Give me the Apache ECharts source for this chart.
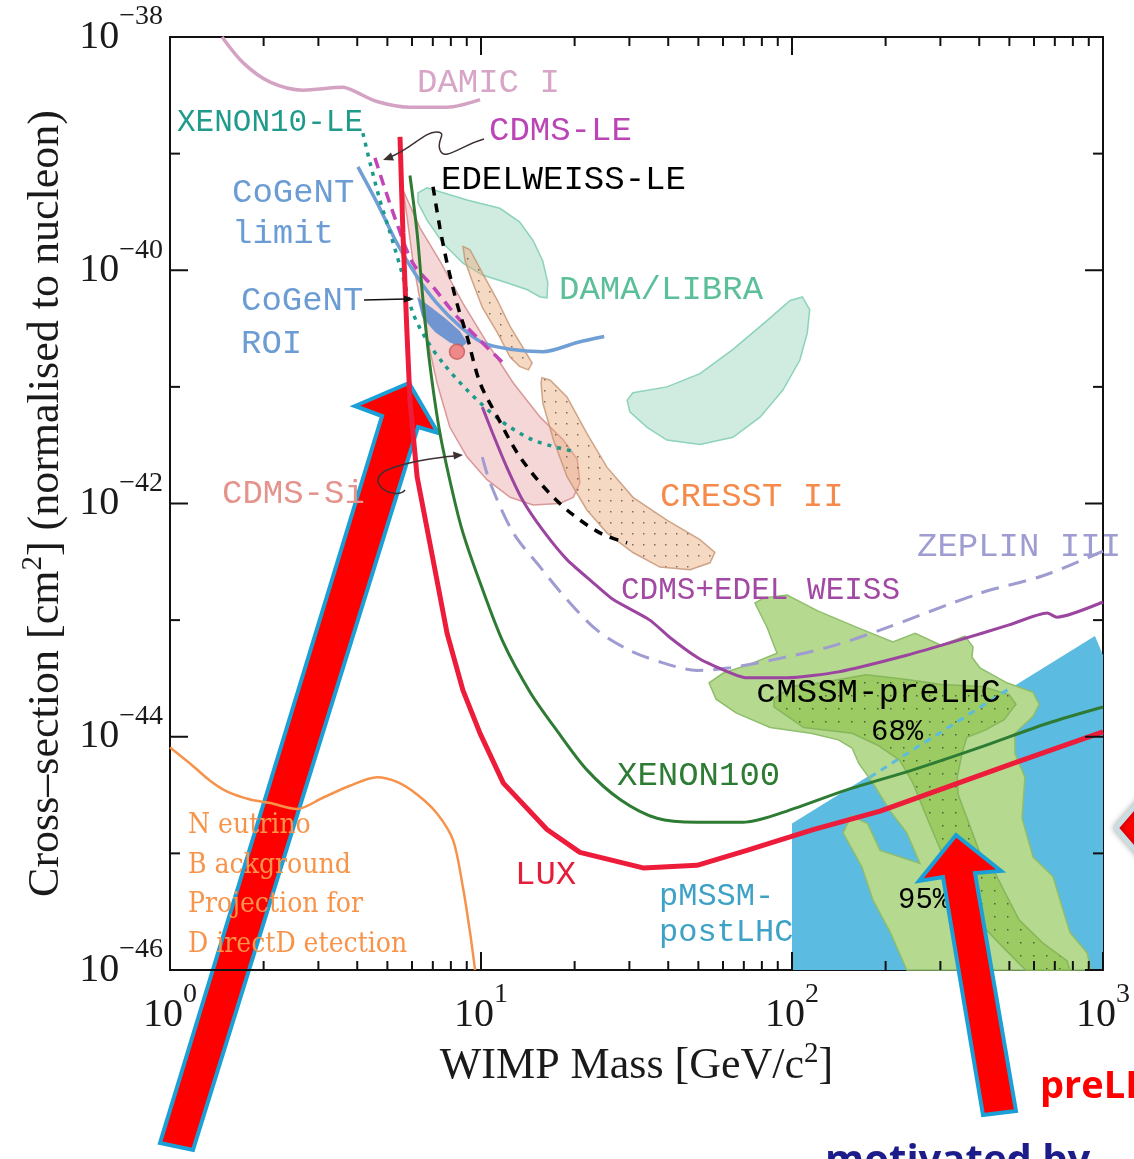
<!DOCTYPE html>
<html>
<head>
<meta charset="utf-8">
<script src="https://cdn.jsdelivr.net/npm/echarts@6/dist/echarts.min.js"></script>
<style>
html, body { margin: 0; padding: 0; background: #fff; }
#chart { width: 1134px; height: 1159px; }
#err { position: absolute; left: 0; top: 0; color: #c00; font: 14px monospace; }
</style>
</head>
<body>
<div id="chart"></div>
<div id="err"></div>
<script>
window.onerror = function (m) { document.getElementById('err').textContent = m; };

// axis ranges and ticks (GeV, cm2)
const massRange = [1, 1000];
const sigmaRange = [1e-46, 1e-38];
const massMajor = [1, 10, 100, 1000];
const massMinor = [2, 3, 4, 5, 6, 7, 8, 9, 20, 30, 40, 50, 60, 70, 80, 90, 200, 300, 400, 500, 600, 700, 800, 900];
const sigmaTicks = [1e-46, 1e-45, 1e-44, 1e-43, 1e-42, 1e-41, 1e-40, 1e-39, 1e-38];

// limit curves  [mass GeV, cross-section cm2]
const damicI = [[1.47, 1e-38], [1.72, 6.0e-39], [2.10, 4.1e-39], [2.68, 3.5e-39], [3.60, 3.7e-39], [3.85, 3.5e-39], [4.63, 2.8e-39], [5.91, 2.5e-39], [7.78, 2.5e-39], [9.93, 2.9e-39]];
const xenon10LE = [[4.17, 1.5e-39], [4.40, 8.3e-40], [4.73, 4.0e-40], [5.10, 2.1e-40], [5.57, 9.5e-41], [6.04, 4.3e-41], [6.70, 2.5e-41], [7.55, 1.6e-41], [9.02, 9.4e-42], [11.5, 5.2e-42], [14.7, 3.5e-42], [19.8, 2.8e-42]];
const cdmsLE = [[4.56, 9.2e-40], [4.84, 5.6e-40], [5.37, 2.5e-40], [6.04, 1.15e-40], [7.01, 7.2e-41], [8.37, 4.0e-41], [9.93, 2.5e-41], [11.8, 1.6e-41]];
const edelweissLE = [[7.01, 5.2e-40], [7.38, 2.3e-40], [7.78, 1.15e-40], [8.37, 5.2e-41], [9.02, 2.7e-41], [9.93, 1.08e-41], [11.3, 5.5e-42], [13.1, 2.7e-42], [15.5, 1.5e-42], [18.9, 8.8e-43], [24.1, 5.6e-43], [29.5, 4.6e-43]];
const cogentLimit = [[4.02, 7.7e-40], [4.63, 3.8e-40], [5.37, 1.7e-40], [6.23, 8.8e-41], [7.22, 5.2e-41], [8.56, 3.3e-41], [10.1, 2.4e-41], [12.4, 2.1e-41], [15.8, 2.0e-41], [20.4, 2.4e-41], [24.9, 2.7e-41]];
const lux = [[5.49, 1.39e-39], [5.61, 2.1e-40], [5.78, 2.9e-41], [5.91, 7.7e-42], [6.23, 1.7e-42], [7.01, 3.3e-43], [7.78, 7.7e-44], [8.75, 2.5e-44], [9.93, 1.07e-44], [11.8, 4.0e-45], [16.3, 1.6e-45], [20.8, 1.02e-45], [33.2, 7.5e-46], [49.5, 7.9e-46], [71.6, 1.06e-45], [117, 1.6e-45], [192, 2.3e-45], [315, 3.7e-45], [514, 5.9e-45], [1000, 1.1e-44]];
const xenon100 = [[5.91, 6.5e-40], [6.23, 2.1e-40], [6.51, 5.5e-41], [6.86, 1.5e-41], [7.38, 4.0e-42], [8.13, 1.2e-42], [8.75, 5.6e-43], [9.93, 2.1e-43], [11.8, 6.4e-44], [14.4, 2.4e-44], [17.5, 1.14e-44], [21.9, 5.2e-45], [28.0, 2.9e-45], [36.8, 2.0e-45], [49.5, 1.85e-45], [69.6, 1.85e-45], [91.4, 2.2e-45], [150, 3.5e-45], [245, 5.2e-45], [402, 8.1e-45], [661, 1.3e-44], [1000, 1.8e-44]];
const cdmsEdelweiss = [[10.1, 6.7e-42], [10.9, 4.0e-42], [12.1, 2.05e-42], [13.6, 1.07e-42], [15.8, 5.9e-43], [18.9, 3.3e-43], [22.9, 2.1e-43], [26.6, 1.5e-43], [34.9, 1.0e-43], [40.5, 7.1e-44], [49.5, 4.8e-44], [55.7, 4.1e-44], [71.6, 3.2e-44], [96.4, 3.2e-44], [141, 3.6e-44], [234, 5.0e-44], [342, 6.7e-44], [499, 9.1e-44], [661, 1.15e-43], [711, 1.06e-43], [1000, 1.43e-43]];
const zeplin3 = [[10.1, 2.5e-42], [10.7, 1.5e-42], [12.7, 5.6e-43], [15.5, 2.85e-43], [18.9, 1.5e-43], [23.6, 8.2e-44], [30.1, 5.5e-44], [38.5, 4.3e-44], [49.5, 3.7e-44], [63.2, 3.9e-44], [91.4, 4.7e-44], [132, 5.9e-44], [192, 8.2e-44], [402, 1.7e-43], [641, 2.4e-43], [1000, 3.9e-43]];
const neutrinoBg = [[1.0, 8.1e-45], [1.16, 5.9e-45], [1.345, 4.2e-45], [1.54, 3.35e-45], [1.81, 2.9e-45], [2.10, 2.7e-45], [2.56, 2.4e-45], [3.10, 3.0e-45], [3.79, 3.8e-45], [4.63, 4.5e-45], [5.37, 4.1e-45], [6.23, 3.2e-45], [7.22, 2.2e-45], [8.13, 1.3e-45], [8.75, 5.1e-46], [9.22, 2.1e-46], [9.57, 1e-46]];
const pmssmEdge = [[178, 4.5e-45], [502, 2.6e-44]];
const cogentBestFit = [[8.37, 2.0e-41]];

// signal / model regions (closed outlines)
const cdmsSi = [[5.61, 4.9e-40], [6.37, 2.3e-40], [7.38, 1.2e-40], [8.75, 5.2e-41], [10.45, 2.4e-41], [12.7, 1.08e-41], [15.5, 5.5e-42], [18.4, 3.5e-42], [20.4, 2.4e-42], [20.8, 1.5e-42], [19.8, 1.13e-42], [17.9, 1.0e-42], [14.7, 9.7e-43], [12.4, 1.13e-42], [10.45, 1.6e-42], [9.02, 2.5e-42], [7.94, 4.5e-42], [7.22, 1.08e-41], [6.76, 2.4e-41], [6.37, 5.5e-41], [6.04, 1.2e-40], [5.78, 2.9e-40]];
const damaLow = [[6.27, 4.6e-40], [6.70, 5.1e-40], [9.02, 4.0e-40], [11.5, 3.4e-40], [13.3, 2.6e-40], [14.7, 1.8e-40], [15.8, 1.2e-40], [16.4, 7.8e-41], [16.3, 5.8e-41], [15.5, 5.9e-41], [14.1, 6.8e-41], [12.1, 7.8e-41], [10.1, 9.1e-41], [8.75, 1.15e-40], [7.55, 1.7e-40], [6.70, 2.7e-40], [6.27, 3.8e-40]];
const damaHigh = [[29.5, 7.7e-42], [30.8, 8.9e-42], [39.6, 1.0e-41], [50.6, 1.3e-41], [64.6, 2.1e-41], [83.1, 3.7e-41], [98.6, 5.5e-41], [108, 5.9e-41], [114, 4.6e-41], [112, 2.9e-41], [106, 1.7e-41], [93.5, 9.4e-42], [78.9, 5.5e-42], [64.6, 3.7e-42], [50.6, 3.2e-42], [39.6, 3.5e-42], [34.2, 4.5e-42], [30.1, 6.1e-42]];
const cresstLow = [[8.75, 1.6e-40], [9.22, 1.5e-40], [10.1, 9.5e-41], [11.3, 5.5e-41], [12.4, 3.3e-41], [13.6, 2.2e-41], [14.6, 1.6e-41], [14.2, 1.4e-41], [13.3, 1.5e-41], [12.4, 1.8e-41], [11.3, 2.9e-41], [10.1, 4.8e-41], [9.35, 8.2e-41], [8.89, 1.2e-40]];
const cresstHigh = [[15.7, 1.2e-41], [16.7, 1.14e-41], [18.9, 8.2e-42], [21.9, 4.0e-42], [25.4, 2.05e-42], [30.8, 1.13e-42], [39.6, 7.2e-43], [50.6, 4.9e-43], [56.5, 3.8e-43], [54.5, 3.1e-43], [47.0, 2.7e-43], [37.6, 2.85e-43], [30.8, 3.8e-43], [25.4, 5.6e-43], [21.9, 8.8e-43], [18.9, 1.7e-42], [17.1, 3.5e-42], [15.8, 7.3e-42], [15.6, 1.08e-41]];
const cogentROI = [[6.23, 5.9e-41], [6.86, 4.9e-41], [7.66, 3.9e-41], [8.56, 3.0e-41], [9.02, 2.4e-41], [8.69, 2.2e-41], [7.94, 2.4e-41], [7.11, 2.95e-41], [6.46, 4.0e-41]];
const pmssmPostLHC = [[100, 1e-46], [100, 1.8e-45], [942, 7.3e-44], [1000, 5.0e-44], [1000, 1e-46]];
const cmssm95 = [[54.1, 2.9e-44], [60.0, 3.5e-44], [75.0, 4.3e-44], [89.5, 5.2e-44], [83.1, 8.7e-44], [76.0, 1.4e-43], [81.3, 1.55e-43], [96.4, 1.64e-43], [121, 1.2e-43], [161, 8.7e-44], [211, 6.5e-44], [249, 7.7e-44], [301, 6.1e-44], [360, 7.3e-44], [382, 5.9e-44], [379, 4.8e-44], [402, 3.9e-44], [491, 2.9e-44], [596, 2.4e-44], [623, 1.9e-44], [596, 1.5e-44], [521, 1.07e-44], [521, 7.2e-45], [561, 4.5e-45], [549, 2.0e-45], [596, 9.3e-46], [691, 6.3e-46], [727, 4.0e-46], [783, 2.1e-46], [889, 1.4e-46], [915, 1e-46], [234, 1e-46], [207, 2.1e-46], [182, 4.0e-46], [168, 7.6e-46], [146, 1.5e-45], [155, 2.1e-45], [175, 1.8e-45], [192, 1.06e-45], [258, 8.2e-46], [234, 1.5e-45], [207, 2.3e-45], [182, 4.0e-45], [164, 5.9e-45], [156, 8.0e-45], [141, 9.4e-45], [115, 1.07e-44], [85, 1.2e-44], [66.1, 1.6e-44], [57.0, 2.1e-44]];
const cmssm68 = [[87.5, 2.1e-44], [99.3, 2.7e-44], [124, 2.9e-44], [173, 3.4e-44], [234, 3.1e-44], [301, 2.8e-44], [408, 2.7e-44], [499, 2.3e-44], [525, 1.9e-44], [481, 1.4e-44], [418, 1.14e-44], [365, 9.9e-45], [352, 7.2e-45], [340, 4.5e-45], [342, 3.2e-45], [368, 1.9e-45], [402, 1.0e-45], [440, 7.6e-46], [484, 4.6e-46], [537, 2.7e-46], [641, 1.7e-46], [766, 1.2e-46], [783, 1e-46], [565, 1e-46], [537, 1.14e-46], [463, 1.7e-46], [387, 2.8e-46], [332, 5.5e-46], [301, 1.06e-45], [272, 2.0e-45], [245, 4.0e-45], [222, 6.3e-45], [188, 8.5e-45], [156, 1.07e-44], [109, 1.2e-44], [87.5, 1.8e-44]];

const serif = "'Liberation Serif', 'DejaVu Serif', serif";
const mono = "'Liberation Mono', 'DejaVu Sans Mono', monospace";
const slab = "'DejaVu Serif Condensed', 'DejaVu Serif', serif";

// the axes run in decades: convert [mass, sigma] -> [log10 mass, log10 sigma]
const lg = pts => pts.map(p => [Math.log10(p[0]), Math.log10(p[1])]);

function dotted(bg, dot, step) {
  const c = document.createElement('canvas');
  c.width = step; c.height = step;
  const g = c.getContext('2d');
  g.fillStyle = bg;
  g.fillRect(0, 0, step, step);
  g.fillStyle = dot;
  g.fillRect(Math.floor(step / 2), Math.floor(step / 2), 1.5, 1.5);
  return { image: c, repeat: 'repeat' };
}

function region(name, pts, style) {
  const d = lg(pts);
  return {
    type: 'custom', name: name, data: d, silent: true,
    renderItem: function (params, api) {
      if (params.dataIndex !== 0) return null;
      return { type: 'polygon', shape: { points: d.map(p => api.coord(p)) }, style: style };
    }
  };
}

function curve(name, data, color, width, dash, smooth) {
  return {
    type: 'line', name: name, data: lg(data), symbol: 'none', smooth: smooth,
    silent: true, lineStyle: { color: color, width: width, type: dash || 'solid' }
  };
}

function supLabel(e) {
  e = Math.round(e);
  return '{b|10}{s|' + (e < 0 ? '\u2212' + (-e) : e) + '}';
}

const labelRich = {
  b: { fontFamily: serif, fontSize: 40, color: '#1a1a1a', verticalAlign: 'bottom' },
  s: { fontFamily: serif, fontSize: 28, color: '#1a1a1a', verticalAlign: 'top', padding: [0, 0, 26, 0] }
};

// tick marks (inside, on all four sides)
const xTickData = massMajor.map(v => [Math.log10(v), -42, 18]).concat(massMinor.map(v => [Math.log10(v), -42, 9]));
const yTickData = sigmaTicks.map((v, i) => [1, Math.log10(v), i % 2 === 0 ? 18 : 10]);
const tickStyle = { stroke: '#111', lineWidth: 2 };
const xLo = Math.log10(massRange[0]), xHi = Math.log10(massRange[1]);
const yLo = Math.log10(sigmaRange[0]), yHi = Math.log10(sigmaRange[1]);

const chart = echarts.init(document.getElementById('chart'));

const inPlotLabels = [
  { t: 'DAMIC I', x: 417, y: 83, c: '#d7a5c6', s: 34 },
  { t: 'XENON10-LE', x: 177, y: 123, c: '#1f9a8b', s: 31 },
  { t: 'CDMS-LE', x: 489, y: 131, c: '#bb45b6', s: 34 },
  { t: 'EDELWEISS-LE', x: 441, y: 180, c: '#000', s: 34 },
  { t: 'CoGeNT', x: 232, y: 193, c: '#6b9cd3', s: 34 },
  { t: 'limit', x: 232, y: 234, c: '#6b9cd3', s: 34 },
  { t: 'DAMA/LIBRA', x: 559, y: 290, c: '#5bbf99', s: 34 },
  { t: 'CoGeNT', x: 241, y: 301, c: '#6b9cd3', s: 34 },
  { t: 'ROI', x: 241, y: 344, c: '#6b9cd3', s: 34 },
  { t: 'CDMS-Si', x: 222, y: 494, c: '#e4938d', s: 34 },
  { t: 'CRESST II', x: 660, y: 497, c: '#f58a4a', s: 34 },
  { t: 'ZEPLIN III', x: 917, y: 547, c: '#9e9cd0', s: 34 },
  { t: 'CDMS+EDEL WEISS', x: 621, y: 591, c: '#a24aa3', s: 31 },
  { t: 'cMSSM-preLHC', x: 756, y: 693, c: '#000', s: 34 },
  { t: '68%', x: 871, y: 732, c: '#000', s: 29 },
  { t: 'XENON100', x: 617, y: 776, c: '#2e7b33', s: 34 },
  { t: 'LUX', x: 515, y: 875, c: '#e41e3a', s: 34 },
  { t: 'pMSSM-', x: 659, y: 897, c: '#3da2c6', s: 32 },
  { t: 'postLHC', x: 659, y: 933, c: '#3da2c6', s: 32 },
  { t: '95%', x: 898, y: 900, c: '#000', s: 29 }
];
const neutrinoText = ['N eutrino', 'B ackground', 'Projection for', 'D irectD etection'];

// left arrow sits behind the plot, right arrow in front of it
const bigArrow = { fill: '#ff0000', stroke: '#1aa0d6', lineWidth: 4, lineJoin: 'miter' };
const graphics = [
  { type: 'polygon', z: 0, shape: { points: [[409, 383], [438, 433], [418, 427], [193, 1150], [160, 1143], [382, 416], [355, 406]] }, style: bigArrow }
];
inPlotLabels.forEach(l => graphics.push({
  type: 'text', x: l.x, y: l.y, z: 50,
  style: { text: l.t, fill: l.c, fontFamily: mono, fontSize: l.s, verticalAlign: 'middle' }
}));
neutrinoText.forEach((t, i) => graphics.push({
  type: 'text', x: 188, y: 826 + i * 39.5, z: 50,
  style: { text: t, fill: '#f7944a', fontFamily: slab, fontSize: 28, verticalAlign: 'middle' }
}));

// small annotation pointers
const pointer = { stroke: '#3d3131', lineWidth: 1.5, fill: null };
graphics.push(
  { type: 'bezierCurve', z: 50, shape: { x1: 484, y1: 139, cpx1: 462, cpy1: 145, cpx2: 444, cpy2: 162, x2: 440, y2: 150 }, style: pointer },
  { type: 'bezierCurve', z: 50, shape: { x1: 440, y1: 150, cpx1: 436, cpy1: 140, cpx2: 448, cpy2: 133, x2: 437, y2: 132 }, style: pointer },
  { type: 'bezierCurve', z: 50, shape: { x1: 437, y1: 132, cpx1: 425, cpy1: 131, cpx2: 410, cpy2: 150, x2: 390, y2: 157 }, style: pointer },
  { type: 'polygon', z: 50, shape: { points: [[383, 160], [391, 152.5], [394, 160.5]] }, style: { fill: '#3d3131' } },
  { type: 'bezierCurve', z: 50, shape: { x1: 405, y1: 490, cpx1: 395, cpy1: 502, cpx2: 358, cpy2: 480, x2: 392, y2: 468 }, style: pointer },
  { type: 'bezierCurve', z: 50, shape: { x1: 392, y1: 468, cpx1: 412, cpy1: 461, cpx2: 440, cpy2: 457, x2: 455, y2: 456 }, style: pointer },
  { type: 'polygon', z: 50, shape: { points: [[463, 455], [453, 451.5], [454, 459.5]] }, style: { fill: '#3d3131' } },
  { type: 'line', z: 50, shape: { x1: 364, y1: 300, x2: 406, y2: 299 }, style: { stroke: '#111', lineWidth: 1.3 } },
  { type: 'polygon', z: 50, shape: { points: [[414, 299], [404, 295.5], [404, 302.5]] }, style: { fill: '#111' } }
);

graphics.push(
  { type: 'polygon', z: 90, shape: { points: [[956, 835], [1001, 871], [975, 873], [1016, 1111], [983, 1115], [943, 877], [919, 881]] }, style: bigArrow },
  { type: 'polygon', z: 90, shape: { points: [[1116, 828], [1142, 798], [1142, 858]] }, style: { fill: '#ff0000', stroke: '#c9dde3', lineWidth: 5, shadowBlur: 6, shadowColor: 'rgba(0,0,0,0.3)' } },
  { type: 'text', z: 90, x: 1040, y: 1087, style: { text: 'preLHC', fill: '#ff0000', fontFamily: "'Open Sans', sans-serif", fontWeight: 'bold', fontSize: 38, verticalAlign: 'middle' } },
  { type: 'text', z: 90, x: 825, y: 1162, style: { text: 'motivated by', fill: '#1c1c8a', fontFamily: "'Open Sans', sans-serif", fontWeight: 'bold', fontSize: 40, verticalAlign: 'middle' } }
);

chart.setOption({
  animation: false,
  backgroundColor: '#fff',
  grid: { z: 1, left: 170, top: 37, width: 933, height: 933, show: true, borderColor: '#111', borderWidth: 2, backgroundColor: 'transparent' },
  xAxis: {
    type: 'value', z: 1, min: xLo, max: xHi, interval: 1,
    axisLine: { show: false }, axisTick: { show: false }, splitLine: { show: false },
    axisLabel: { margin: 11, formatter: supLabel, rich: labelRich },
    name: '{n|WIMP Mass [GeV/c}{sup|2}{n|]}', nameLocation: 'middle', nameGap: 64,
    nameTextStyle: {
      rich: {
        n: { fontFamily: serif, fontSize: 44, color: '#1a1a1a', verticalAlign: 'bottom' },
        sup: { fontFamily: serif, fontSize: 29, color: '#1a1a1a', verticalAlign: 'top', padding: [0, 0, 20, 0] }
      }
    }
  },
  yAxis: {
    type: 'value', z: 1, min: yLo, max: yHi, interval: 1,
    axisLine: { show: false }, axisTick: { show: false }, splitLine: { show: false },
    axisLabel: {
      margin: 7, padding: [0, 0, 14, 0], rich: labelRich,
      formatter: v => (Math.round(v) % 2 === 0 ? supLabel(v) : '')
    },
    name: '{n|Cross\u2013section [cm}{sup|2}{n|] (normalised to nucleon)}', nameLocation: 'middle', nameRotate: 90, nameGap: 100,
    nameTextStyle: {
      rich: {
        n: { fontFamily: serif, fontSize: 44, color: '#1a1a1a', verticalAlign: 'bottom' },
        sup: { fontFamily: serif, fontSize: 29, color: '#1a1a1a', verticalAlign: 'top', padding: [0, 0, 20, 0] }
      }
    }
  },
  series: [
    region('pMSSM-postLHC', pmssmPostLHC, { fill: '#5bbbe0' }),
    region('CDMS-Si', cdmsSi, { fill: 'rgba(232,150,150,0.38)', stroke: 'rgba(205,125,125,0.75)', lineWidth: 1.5 }),
    region('DAMA/LIBRA low', damaLow, { fill: 'rgba(150,212,186,0.45)', stroke: 'rgba(125,205,178,0.85)', lineWidth: 1.5 }),
    region('DAMA/LIBRA high', damaHigh, { fill: 'rgba(150,212,186,0.45)', stroke: 'rgba(125,205,178,0.85)', lineWidth: 1.5 }),
    region('CRESST II low', cresstLow, { fill: dotted('rgba(232,170,122,0.45)', 'rgba(90,70,55,0.75)', 11), stroke: 'rgba(200,150,120,0.85)', lineWidth: 1.5 }),
    region('CRESST II high', cresstHigh, { fill: dotted('rgba(232,170,122,0.45)', 'rgba(90,70,55,0.75)', 11), stroke: 'rgba(200,150,120,0.85)', lineWidth: 1.5 }),
    region('CoGeNT ROI', cogentROI, { fill: 'rgba(88,138,208,0.85)' }),
    region('cMSSM 95%', cmssm95, { fill: '#b5d98f', stroke: '#8fbe6c', lineWidth: 1.5 }),
    region('cMSSM 68%', cmssm68, { fill: dotted('#9ccb63', 'rgba(60,80,45,0.85)', 13), stroke: '#86b75b', lineWidth: 1.5 }),
    curve('pMSSM edge', pmssmEdge, '#5bbbe0', 3, [7, 6], false),
    curve('DAMIC I', damicI, '#d4a3c3', 3.5, null, 0.3),
    curve('Neutrino background', neutrinoBg, '#f7924a', 2.5, null, 0.3),
    curve('ZEPLIN III', zeplin3, '#9f9cd2', 3, [18, 10], 0.3),
    curve('CDMS+EDELWEISS', cdmsEdelweiss, '#9c45a0', 3, null, 0.2),
    curve('CoGeNT limit', cogentLimit, '#6f9fd5', 3.5, null, 0.3),
    curve('XENON10-LE', xenon10LE, '#1c9a8c', 3.5, [4, 6], 0.3),
    curve('CDMS-LE', cdmsLE, '#c045b8', 3.5, [11, 7], 0.3),
    curve('EDELWEISS-LE', edelweissLE, '#000', 3.5, [9, 8], 0.3),
    curve('XENON100', xenon100, '#2e7b33', 3, null, 0.3),
    curve('LUX', lux, '#ec1c3a', 5, null, false),
    {
      type: 'scatter', name: 'CoGeNT best fit', data: lg(cogentBestFit), symbolSize: 15, silent: true,
      itemStyle: { color: '#ec7475', borderColor: '#c65a5a', borderWidth: 1.5 }
    },
    {
      type: 'custom', name: 'x ticks', data: xTickData, silent: true, z: 10,
      renderItem: function (params, api) {
        const v = api.value(0), len = api.value(2);
        const b = api.coord([v, yLo]), t = api.coord([v, yHi]);
        return { type: 'group', children: [
          { type: 'line', shape: { x1: b[0], y1: b[1], x2: b[0], y2: b[1] - len }, style: tickStyle },
          { type: 'line', shape: { x1: t[0], y1: t[1], x2: t[0], y2: t[1] + len }, style: tickStyle }
        ] };
      }
    },
    {
      type: 'custom', name: 'y ticks', data: yTickData, silent: true, z: 10,
      renderItem: function (params, api) {
        const v = api.value(1), len = api.value(2);
        const l = api.coord([xLo, v]), r = api.coord([xHi, v]);
        return { type: 'group', children: [
          { type: 'line', shape: { x1: l[0], y1: l[1], x2: l[0] + len, y2: l[1] }, style: tickStyle },
          { type: 'line', shape: { x1: r[0], y1: r[1], x2: r[0] - len, y2: r[1] }, style: tickStyle }
        ] };
      }
    }
  ],
  graphic: graphics
});
</script>
</body>
</html>
